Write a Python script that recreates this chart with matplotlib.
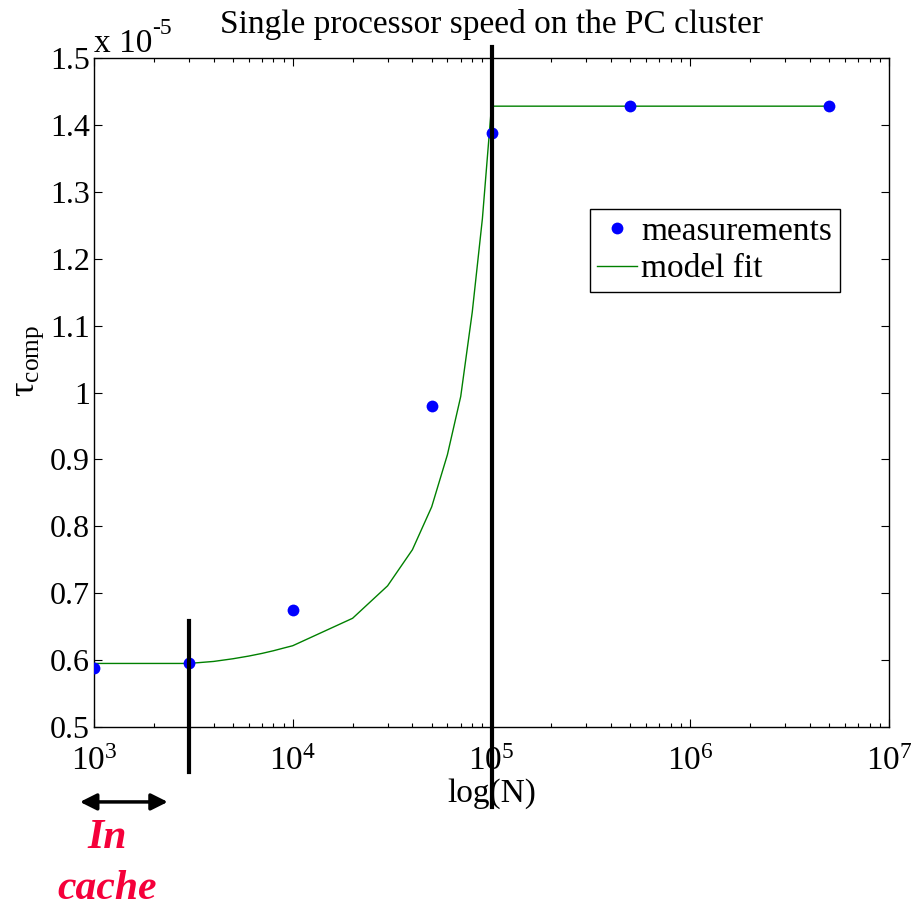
import numpy as np
import matplotlib
matplotlib.use("Agg")
import matplotlib.pyplot as plt
from matplotlib.ticker import FuncFormatter, LogLocator

# measured single-processor time per point (units of 1e-5)
meas_n = [1e3, 3e3, 1e4, 5e4, 1e5, 5e5, 5e6]
meas_tau = [0.588, 0.595, 0.675, 0.980, 1.388, 1.428, 1.428]

# model fit curve (units of 1e-5)
fit_n = [1e3, 2e3, 3e3, 4e3, 5e3, 6e3, 7e3, 8e3, 9e3, 1e4, 2e4, 3e4, 4e4,
         5e4, 6e4, 7e4, 8e4, 9e4, 1e5, 5e5, 5e6]
fit_tau = [0.595, 0.595, 0.595, 0.598, 0.602, 0.606, 0.610, 0.614, 0.618,
           0.6215, 0.6625, 0.711, 0.765, 0.829, 0.907, 0.994, 1.12, 1.26,
           1.428, 1.428, 1.428]

# cache / memory boundary markers: (N, y_low, y_high)
cache_line = (3e3, 0.433, 0.658)
mem_line = (1e5, 0.380, 1.516)

# "In cache" arrow span
arrow_n = [850, 2350]
arrow_y = 0.388

plt.rcParams["font.family"] = ["Liberation Serif", "DejaVu Serif"]
plt.rcParams["mathtext.fontset"] = "custom"
plt.rcParams["mathtext.rm"] = "Liberation Serif"
plt.rcParams["mathtext.it"] = "Liberation Serif:italic"
plt.rcParams["mathtext.bf"] = "Liberation Serif:bold"


def main():
    fig = plt.figure(figsize=(9.12, 9.08), dpi=100)
    ax = fig.add_axes([94 / 912, 1 - 727 / 908, 795 / 912, 669 / 908])

    ax.plot(meas_n, meas_tau, "o", color=(0, 0, 1), ms=8.5, mec="none",
            label="measurements", zorder=4)
    ax.plot(fit_n, fit_tau, "-", color=(0, 0.5, 0), lw=1.0,
            label="model fit", zorder=3)

    for n, y0, y1 in (cache_line, mem_line):
        ax.plot([n, n], [y0, y1], color="black", lw=3, clip_on=False, zorder=5)

    ax.set_xscale("log")
    ax.set_xlim(1e3, 1e7)
    ax.set_ylim(0.5, 1.5)
    ax.set_yticks(np.arange(0.5, 1.51, 0.1))
    ax.yaxis.set_major_formatter(FuncFormatter(lambda v, p: "%g" % round(v, 2)))
    ax.xaxis.set_minor_locator(LogLocator(base=10, subs=np.arange(2, 10)))

    ax.tick_params(which="both", direction="in", top=True, right=True,
                   width=0.8)
    ax.tick_params(axis="y", which="major", length=6, pad=3, labelsize=23)
    ax.tick_params(axis="x", which="major", length=6, pad=14, labelsize=24)
    ax.tick_params(axis="x", which="minor", length=3)
    for s in ax.spines.values():
        s.set_linewidth(1.0)

    ax.set_title("Single processor speed on the PC cluster", fontsize=24, pad=18)
    ax.set_xlabel("log(N)", fontsize=24, labelpad=1)
    ax.set_ylabel(r"$\mathrm{\tau_{comp}}$", fontsize=26)
    ax.yaxis.set_label_coords(-0.06, 0.547)

    # axis multiplier, hyphen in the exponent as in the original
    ax.annotate("x 10", xy=(0, 1), xycoords="axes fraction",
                xytext=(0, 4), textcoords="offset points",
                ha="left", va="baseline", fontsize=24)
    ax.annotate("-5", xy=(0, 1), xycoords="axes fraction",
                xytext=(42, 17), textcoords="offset points",
                ha="left", va="baseline", fontsize=17)

    leg = ax.legend(loc="upper left", bbox_to_anchor=(0.624, 0.774),
                    borderaxespad=0, fontsize=24, fancybox=False,
                    edgecolor="black", framealpha=1, handlelength=1.2,
                    handletextpad=0.12, borderpad=0.22, labelspacing=0.2,
                    numpoints=1)
    leg.get_frame().set_linewidth(1.0)

    ax.annotate("", xy=(arrow_n[0], arrow_y), xytext=(arrow_n[1], arrow_y),
                xycoords="data", textcoords="data", annotation_clip=False,
                arrowprops=dict(arrowstyle="<|-|>", color="black", lw=2.5,
                                mutation_scale=25, shrinkA=0, shrinkB=0))
    ax.text(1163, 0.334, "In", color="#f5003a", fontsize=30, fontweight="bold",
            fontstyle="italic", ha="center", va="center", clip_on=False)
    ax.text(1163, 0.258, "cache", color="#f5003a", fontsize=30,
            fontweight="bold", fontstyle="italic", ha="center", va="center",
            clip_on=False)

    fig.savefig("out.png", dpi=100)
    plt.close(fig)


if __name__ == "__main__":
    main()
